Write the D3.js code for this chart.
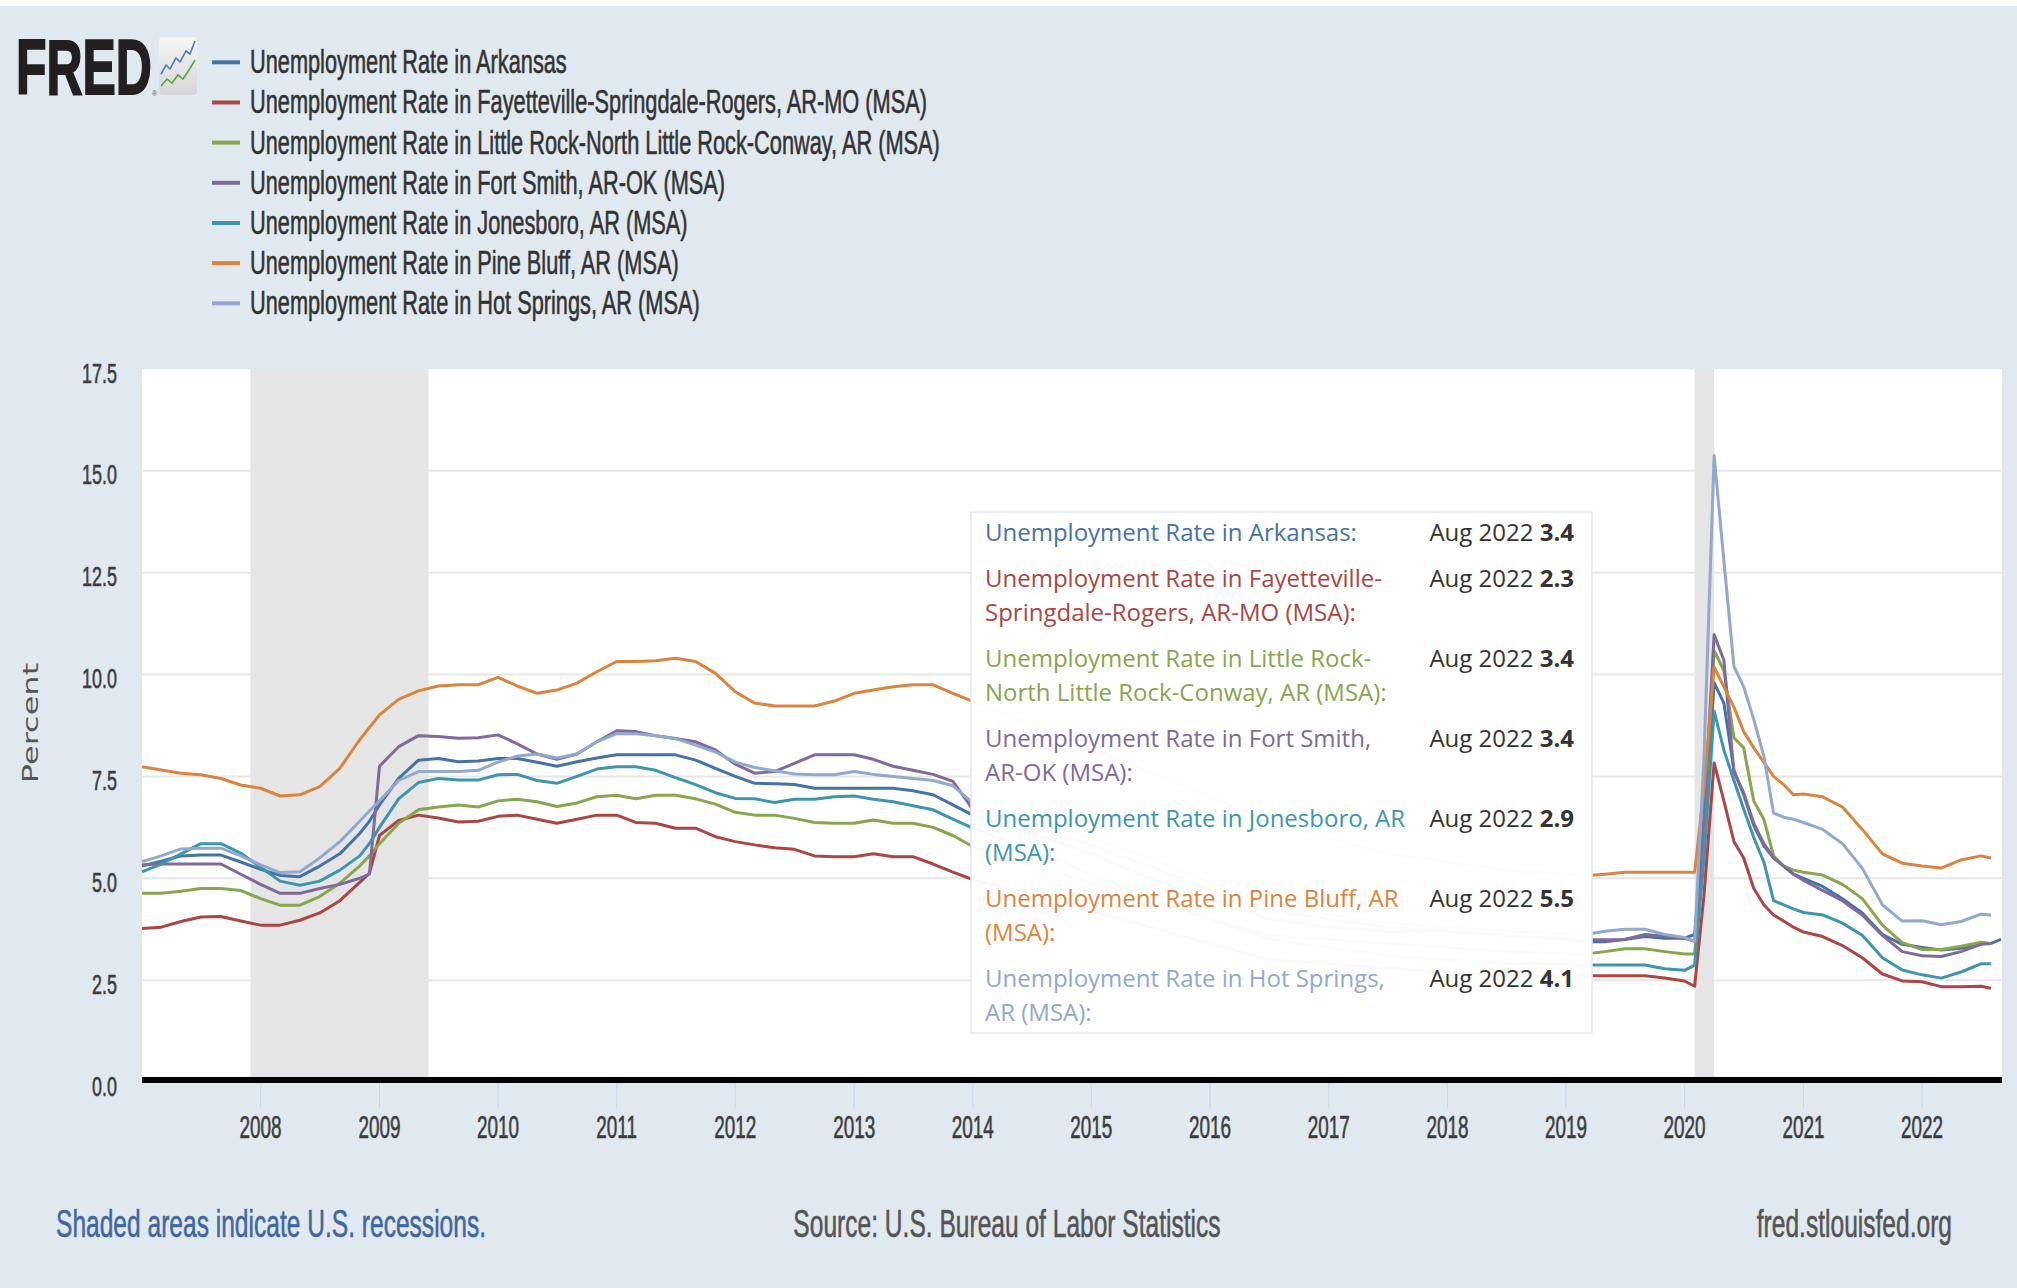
<!DOCTYPE html>
<html>
<head>
<meta charset="utf-8">
<script src="https://cdn.jsdelivr.net/npm/d3@7"></script>
<style>
  html, body { margin: 0; padding: 0; background: #e1e9f0; }
  svg { display: block; }
</style>
</head>
<body>
<svg id="chart" width="2017" height="1288"></svg>
<script>
// observation months (bimonthly early on, denser around 2020)
const dates = [
  "2007-01","2007-03","2007-05","2007-07","2007-09","2007-11",
  "2008-01","2008-03","2008-05","2008-07","2008-09","2008-11","2008-12",
  "2009-01","2009-03","2009-05","2009-07","2009-09","2009-11",
  "2010-01","2010-03","2010-05","2010-07","2010-09","2010-11",
  "2011-01","2011-03","2011-05","2011-07","2011-09","2011-11",
  "2012-01","2012-03","2012-05","2012-07","2012-09","2012-11",
  "2013-01","2013-03","2013-05","2013-07","2013-09","2013-11",
  "2014-01","2014-07","2015-01","2015-07","2016-01","2016-07","2017-01","2017-07","2018-01","2018-07","2019-01",
  "2019-03","2019-05","2019-07","2019-09","2019-11",
  "2020-01","2020-02","2020-03","2020-04","2020-05","2020-06","2020-07","2020-08","2020-09","2020-10","2020-11","2020-12","2021-01",
  "2021-03","2021-05","2021-07","2021-09","2021-11","2022-01","2022-03","2022-05","2022-07",
  "2022-08","2022-09"
];

const arkansas = [
  5.3, 5.42, 5.55, 5.57, 5.57, 5.4,
  5.22, 5.07, 5.04, 5.3, 5.6, 6.1, 6.4,
  6.8, 7.45, 7.9, 7.94, 7.86, 7.88,
  7.94, 7.94, 7.85, 7.75, 7.86, 7.95,
  8.03, 8.03, 8.03, 8.03, 7.9, 7.7,
  7.5, 7.33, 7.32, 7.3, 7.21, 7.21,
  7.21, 7.21, 7.21, 7.15, 7.05, 6.8,
  6.55, 6.1, 5.6, 5.0, 4.5, 4.0, 3.8, 3.7, 3.7, 3.6, 3.5,
  3.44, 3.44, 3.5, 3.57, 3.53,
  3.53, 3.62, 6.0, 9.8, 9.3, 7.65, 7.05, 6.3, 5.8, 5.5, 5.3, 5.1, 5.0,
  4.8, 4.5, 4.15, 3.62, 3.38, 3.3, 3.24, 3.28, 3.4,
  3.4, 3.5
];
const fayetteville = [
  3.77, 3.8, 3.94, 4.05, 4.06, 3.95,
  3.85, 3.85, 3.97, 4.15, 4.45, 4.9, 5.12,
  6.05, 6.42, 6.55, 6.48, 6.38, 6.4,
  6.52, 6.55, 6.45, 6.35, 6.45, 6.55,
  6.55, 6.37, 6.35, 6.23, 6.23, 6.02,
  5.9, 5.82, 5.75, 5.71, 5.55, 5.53,
  5.53, 5.6, 5.53, 5.53, 5.35, 5.15,
  4.97, 4.6, 4.2, 3.8, 3.4, 3.0, 2.9, 2.8, 2.7, 2.6, 2.6,
  2.61, 2.61, 2.61, 2.61, 2.55,
  2.48, 2.35, 4.6, 7.83, 6.9, 5.9, 5.5, 4.75, 4.35, 4.1, 3.95, 3.8, 3.68,
  3.57, 3.35, 3.05, 2.65, 2.48, 2.46, 2.34, 2.34, 2.35,
  2.3, null
];
const littleRock = [
  4.63, 4.63, 4.68, 4.75, 4.75, 4.7,
  4.5, 4.34, 4.34, 4.55, 4.88, 5.3, 5.55,
  5.85, 6.35, 6.68, 6.75, 6.8, 6.75,
  6.9, 6.94, 6.88, 6.76, 6.85, 7.0,
  7.04, 6.95, 7.04, 7.04, 6.95, 6.82,
  6.62, 6.55, 6.55, 6.47, 6.37, 6.35,
  6.35, 6.43, 6.35, 6.35, 6.25, 6.05,
  5.78, 5.3, 4.9, 4.5, 4.0, 3.6, 3.5, 3.4, 3.3, 3.2, 3.15,
  3.14, 3.2, 3.27, 3.27, 3.2,
  3.14, 3.14, 6.4, 10.59, 10.1, 8.45, 8.2, 6.9, 6.45, 5.55, 5.3, 5.2, 5.15,
  5.08, 4.85, 4.5, 3.85, 3.42, 3.25, 3.25, 3.33, 3.43,
  3.4, null
];
const fortSmith = [
  5.33, 5.35, 5.35, 5.35, 5.35, 5.1,
  4.85, 4.63, 4.63, 4.75, 4.85, 5.0, 5.1,
  7.75, 8.23, 8.5, 8.48, 8.44, 8.45,
  8.52, 8.3, 8.05, 7.92, 8.05, 8.35,
  8.62, 8.6, 8.5, 8.43, 8.35, 8.15,
  7.8, 7.58, 7.62, 7.82, 8.03, 8.03,
  8.03, 7.92, 7.75, 7.65, 7.55, 7.38,
  6.7, 6.3, 5.8, 5.3, 4.7, 4.2, 4.0, 3.8, 3.7, 3.6, 3.5,
  3.49, 3.49, 3.5, 3.62, 3.58,
  3.53, 3.45, 6.5, 10.98, 10.35, 7.6, 7.1, 6.35, 5.85, 5.5, 5.3, 5.1, 4.95,
  4.7, 4.45, 4.1, 3.6, 3.2, 3.1, 3.08, 3.2, 3.38,
  3.4, null
];
const jonesboro = [
  5.16, 5.35, 5.6, 5.85, 5.85, 5.62,
  5.27, 4.93, 4.83, 4.93, 5.2, 5.55, 5.85,
  6.25, 6.95, 7.35, 7.45, 7.41, 7.41,
  7.54, 7.55, 7.4, 7.33, 7.5, 7.68,
  7.74, 7.74, 7.65, 7.47, 7.3, 7.1,
  6.96, 6.95, 6.86, 6.94, 6.94, 7.0,
  7.02, 6.94, 6.88, 6.78, 6.68, 6.45,
  6.23, 5.7, 5.1, 4.5, 4.0, 3.5, 3.3, 3.1, 3.0, 2.9, 2.9,
  2.87, 2.87, 2.87, 2.87, 2.78,
  2.74, 2.87, 5.5, 9.1, 8.15, 7.4, 6.7, 6.0, 5.4, 4.45, 4.35, 4.25, 4.16,
  4.1, 3.9, 3.6, 3.05, 2.75, 2.63, 2.55, 2.7, 2.9,
  2.9, null
];
const pineBluff = [
  7.74, 7.66, 7.58, 7.54, 7.45, 7.29,
  7.21, 7.02, 7.05, 7.25, 7.7, 8.4, 8.7,
  9.01, 9.39, 9.6, 9.72, 9.75, 9.75,
  9.93, 9.72, 9.54, 9.62, 9.79, 10.07,
  10.32, 10.32, 10.34, 10.4, 10.32, 10.03,
  9.58, 9.3, 9.23, 9.23, 9.23, 9.35,
  9.54, 9.62, 9.7, 9.75, 9.75, 9.54,
  9.34, 8.8, 8.2, 7.6, 7.0, 6.4, 6.0, 5.6, 5.4, 5.2, 5.1,
  5.06, 5.1, 5.15, 5.15, 5.15,
  5.15, 5.15, 7.2, 10.19, 9.7, 9.2, 8.6, 8.2, 7.85, 7.5, 7.3, 7.05, 7.07,
  7.0, 6.75, 6.2, 5.6, 5.37, 5.3, 5.25, 5.45, 5.55,
  5.5, null
];
const hotSprings = [
  5.41, 5.55, 5.72, 5.74, 5.74, 5.55,
  5.33, 5.14, 5.16, 5.5, 5.9, 6.4, 6.65,
  6.9, 7.4, 7.62, 7.62, 7.62, 7.65,
  7.85, 8.0, 8.05, 7.95, 8.05, 8.35,
  8.55, 8.55, 8.5, 8.43, 8.27, 8.1,
  7.85, 7.72, 7.64, 7.56, 7.54, 7.54,
  7.62, 7.55, 7.5, 7.45, 7.4, 7.27,
  6.85, 6.5, 6.0, 5.5, 4.9, 4.4, 4.1, 3.9, 3.8, 3.7, 3.65,
  3.62, 3.7, 3.75, 3.75, 3.62,
  3.55, 3.45, 8.0, 15.37, 12.8, 10.2, 9.7, 8.9, 8.0, 6.6, 6.5, 6.45, 6.37,
  6.2, 5.85, 5.25, 4.35, 3.95, 3.96, 3.86, 3.94, 4.12,
  4.1, null
];

const seriesNames = [
  "Unemployment Rate in Arkansas",
  "Unemployment Rate in Fayetteville-Springdale-Rogers, AR-MO (MSA)",
  "Unemployment Rate in Little Rock-North Little Rock-Conway, AR (MSA)",
  "Unemployment Rate in Fort Smith, AR-OK (MSA)",
  "Unemployment Rate in Jonesboro, AR (MSA)",
  "Unemployment Rate in Pine Bluff, AR (MSA)",
  "Unemployment Rate in Hot Springs, AR (MSA)"
];
const tipLines = [
  ["Unemployment Rate in Arkansas:"],
  ["Unemployment Rate in Fayetteville-", "Springdale-Rogers, AR-MO (MSA):"],
  ["Unemployment Rate in Little Rock-", "North Little Rock-Conway, AR (MSA):"],
  ["Unemployment Rate in Fort Smith,", "AR-OK (MSA):"],
  ["Unemployment Rate in Jonesboro, AR", "(MSA):"],
  ["Unemployment Rate in Pine Bluff, AR", "(MSA):"],
  ["Unemployment Rate in Hot Springs,", "AR (MSA):"]
];
const seriesColors = ["#4572a7", "#aa4643", "#89a54e", "#80699b", "#3d96ae", "#db843d", "#92a8cd"];
const seriesValues = [arkansas, fayetteville, littleRock, fortSmith, jonesboro, pineBluff, hotSprings];

const recessionStart = ["2007-12", "2020-02"];
const recessionEnd = ["2009-06", "2020-04"];
const yTicks = [0, 2.5, 5, 7.5, 10, 12.5, 15, 17.5];
const xTickYears = [2008, 2009, 2010, 2011, 2012, 2013, 2014, 2015, 2016, 2017, 2018, 2019, 2020, 2021, 2022];
const tooltipMonth = "2022-08";

const parseMonth = d3.timeParse("%Y-%m");
const SQUEEZE = 0.64;
const condensed = "'Liberation Sans', Arial, sans-serif";

const svg = d3.select("#chart");
const plot = { left: 142, right: 2002, top: 369, bottom: 1082 };

const x = d3.scaleTime()
  .domain([parseMonth("2007-01"), parseMonth("2022-09")])
  .range([plot.left, plot.right - 1]);
const y = d3.scaleLinear()
  .domain([0, 17.5])
  .range([plot.bottom, plot.top]);

// squeezed text, the picture is rendered horizontally compressed
function narrowText(g, px, py, str, size, anchor, fill, sx = SQUEEZE) {
  return g.append("text")
    .attr("transform", `translate(${px},${py}) scale(${sx},1)`)
    .attr("text-anchor", anchor)
    .attr("font-family", condensed)
    .attr("font-size", size)
    .attr("fill", fill)
    .attr("stroke", fill)
    .attr("stroke-width", 0.6)
    .text(str);
}

svg.append("rect").attr("width", 2017).attr("height", 6).attr("fill", "#ffffff");

// ---- logo + legend ----
const head = svg.append("g");
head.append("text")
  .attr("transform", `translate(16,94) scale(${SQUEEZE},1)`)
  .attr("font-family", condensed)
  .attr("font-weight", "bold")
  .attr("font-size", 78)
  .attr("fill", "#231f20")
  .attr("stroke", "#231f20")
  .attr("stroke-width", 2)
  .text("FRED");
head.append("text")
  .attr("x", 152).attr("y", 96)
  .attr("font-family", condensed).attr("font-size", 7).attr("fill", "#555")
  .text("®");

const grad = svg.append("defs").append("linearGradient")
  .attr("id", "iconGrad").attr("x1", 0).attr("y1", 0).attr("x2", 0).attr("y2", 1);
grad.append("stop").attr("offset", "0%").attr("stop-color", "#f6f6f6");
grad.append("stop").attr("offset", "100%").attr("stop-color", "#d6d6d6");
head.append("rect")
  .attr("x", 159).attr("y", 37).attr("width", 38).attr("height", 58).attr("rx", 4)
  .attr("fill", "url(#iconGrad)");
head.append("polyline")
  .attr("points", "161,74 166,65 170,69 176,58 180,62 186,51 190,54 195,41")
  .attr("fill", "none").attr("stroke", "#4a7fb5").attr("stroke-width", 1.6);
head.append("polyline")
  .attr("points", "161,86 167,79 172,83 178,75 183,79 189,70 195,60")
  .attr("fill", "none").attr("stroke", "#5aa83c").attr("stroke-width", 1.6);

const legend = head.selectAll("g.legend-row")
  .data(seriesNames)
  .join("g")
  .attr("class", "legend-row")
  .attr("transform", (d, i) => `translate(0,${62.3 + i * 40.17})`);
legend.append("line")
  .attr("x1", 212).attr("x2", 240)
  .attr("stroke", (d, i) => seriesColors[i])
  .attr("stroke-width", 4);
legend.each(function(d) {
  narrowText(d3.select(this), 250, 11, d, 34, "start", "#333333");
});

// ---- plot background, grid, recessions ----
svg.append("rect")
  .attr("x", plot.left).attr("y", plot.top)
  .attr("width", plot.right - plot.left).attr("height", plot.bottom - plot.top)
  .attr("fill", "#ffffff");

svg.append("g")
  .selectAll("line")
  .data(yTicks.filter(t => t > 0 && t < 17.5))
  .join("line")
  .attr("x1", plot.left).attr("x2", plot.right)
  .attr("y1", d => y(d)).attr("y2", d => y(d))
  .attr("stroke", "#e6e6e6").attr("stroke-width", 2);

svg.append("g")
  .selectAll("rect")
  .data(recessionStart.map((s, i) => [parseMonth(s), parseMonth(recessionEnd[i])]))
  .join("rect")
  .attr("x", d => x(d[0]))
  .attr("width", d => x(d[1]) - x(d[0]))
  .attr("y", plot.top)
  .attr("height", plot.bottom - plot.top)
  .attr("fill", "#e5e5e5");

// ---- series ----
const points = dates.map(parseMonth);
const line = d3.line()
  .defined(d => d.v != null)
  .x(d => x(d.date))
  .y(d => y(d.v));

svg.append("g")
  .selectAll("path")
  .data(seriesValues)
  .join("path")
  .attr("d", vals => line(vals.map((v, i) => ({ date: points[i], v }))))
  .attr("fill", "none")
  .attr("stroke", (d, i) => seriesColors[i])
  .attr("stroke-width", 3)
  .attr("stroke-linejoin", "round");

// ---- axes ----
svg.append("line")
  .attr("x1", plot.left).attr("x2", plot.right)
  .attr("y1", 1080).attr("y2", 1080)
  .attr("stroke", "#000000").attr("stroke-width", 6);

const yAxis = svg.append("g");
yTicks.forEach(t => {
  narrowText(yAxis, 117, y(t) + 13.5, d3.format(".1f")(t), 28, "end", "#3d3d3d");
});

const xAxis = svg.append("g");
xTickYears.forEach(yr => {
  const px = x(new Date(yr, 0, 1));
  xAxis.append("line")
    .attr("x1", px).attr("x2", px).attr("y1", 1083).attr("y2", 1108)
    .attr("stroke", "#ccd6eb").attr("stroke-width", 1);
  narrowText(xAxis, px, 1138, String(yr), 31, "middle", "#3d3d3d", 0.61);
});

svg.append("text")
  .attr("transform", `translate(38,723) scale(${SQUEEZE},1) rotate(-90)`)
  .attr("text-anchor", "middle")
  .attr("font-family", "'DejaVu Sans', sans-serif")
  .attr("font-size", 32)
  .attr("fill", "#555555")
  .text("Percent");

// ---- tooltip ----
const tip = svg.append("g");
tip.append("rect")
  .attr("x", 971).attr("y", 512).attr("width", 621).attr("height", 521)
  .attr("fill", "rgba(255,255,255,0.97)")
  .attr("stroke", "#e4e9ef").attr("stroke-width", 1.5);

const tipIdx = dates.indexOf(tooltipMonth);
const tipDate = d3.timeFormat("%b %Y")(parseMonth(tooltipMonth));
let rowY = 541;
tipLines.forEach((lines, i) => {
  lines.forEach((ln, j) => {
    tip.append("text")
      .attr("x", 985).attr("y", rowY + j * 34)
      .attr("font-family", "'Open Sans', sans-serif")
      .attr("font-size", 24)
      .attr("fill", seriesColors[i])
      .text(ln);
  });
  const val = tip.append("text")
    .attr("x", 1574).attr("y", rowY)
    .attr("text-anchor", "end")
    .attr("font-family", "'Open Sans', sans-serif")
    .attr("font-size", 24)
    .attr("fill", "#333333");
  val.append("tspan").text(tipDate + " ");
  val.append("tspan").attr("font-weight", "bold").text(d3.format(".1f")(seriesValues[i][tipIdx]));
  rowY += (lines.length - 1) * 34 + 46;
});

// ---- footer ----
const foot = svg.append("g");
narrowText(foot, 56, 1237, "Shaded areas indicate U.S. recessions.", 39, "start", "#41679f", 0.63);
narrowText(foot, 1007, 1237, "Source: U.S. Bureau of Labor Statistics", 39, "middle", "#555555", 0.63);
narrowText(foot, 1952, 1237, "fred.stlouisfed.org", 39, "end", "#555555", 0.63);
</script>
</body>
</html>
